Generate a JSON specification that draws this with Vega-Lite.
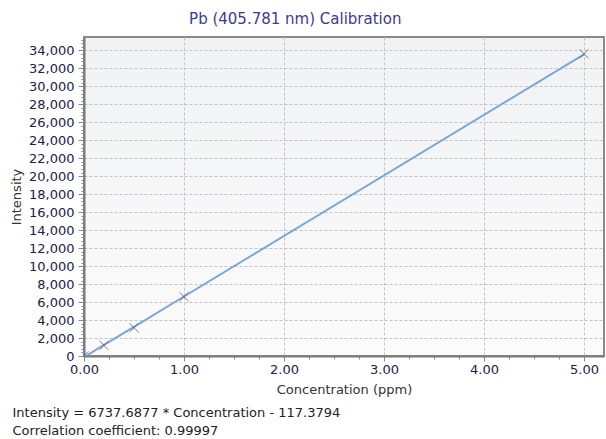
{
  "$schema": "https://vega.github.io/schema/vega-lite/v6.json",
  "background": "white",
  "padding": {"left": 9, "top": 10, "right": 0, "bottom": 0},
  "config": {
    "font": "DejaVu Sans",
    "view": {
      "stroke": "#8a8a8a",
      "strokeWidth": 2,
      "fill": {"gradient": "linear", "x1": 0, "y1": 0, "x2": 0, "y2": 1, "stops": [{"offset": 0, "color": "#f1f2f3"}, {"offset": 1, "color": "#fbfbfc"}]}
    },
    "axis": {
      "labelFont": "DejaVu Sans",
      "labelFontSize": 13,
      "labelColor": "#222244",
      "titleFont": "DejaVu Sans",
      "titleFontSize": 13,
      "titleFontWeight": "normal",
      "titleColor": "#333333",
      "domainColor": "#7a7a7a",
      "domainWidth": 2,
      "tickColor": "#8a8a8a",
      "gridColor": "#c4c4c4",
      "gridDash": [3, 2],
      "labelOverlap": false,
      "labelFlush": false
    }
  },
  "title": {
    "text": ["Intensity = 6737.6877 * Concentration - 117.3794", "Correlation coefficient: 0.99997"],
    "orient": "bottom",
    "anchor": "start",
    "frame": "bounds",
    "font": "DejaVu Sans",
    "fontSize": 13,
    "fontWeight": "normal",
    "color": "#222222",
    "lineHeight": 18,
    "offset": 10,
    "dx": 3
  },
  "vconcat": [
    {
      "width": 520,
      "height": 319,
      "title": {
        "text": "Pb (405.781 nm) Calibration",
        "anchor": "middle",
        "frame": "bounds",
        "font": "DejaVu Sans",
        "fontSize": 15,
        "fontWeight": "normal",
        "color": "#3b3b96",
        "offset": 7,
        "dx": -12
      },
      "data": {
        "values": [
          {"conc": 0.0, "value": -117.38, "kind": "fit"},
          {"conc": 0.2, "value": 1230.16, "kind": "fit"},
          {"conc": 0.5, "value": 3251.46, "kind": "fit"},
          {"conc": 1.0, "value": 6620.31, "kind": "fit"},
          {"conc": 5.0, "value": 33571.06, "kind": "fit"},
          {"conc": 0.0, "value": 20, "kind": "std"},
          {"conc": 0.2, "value": 1180, "kind": "std"},
          {"conc": 0.5, "value": 3150, "kind": "std"},
          {"conc": 1.0, "value": 6600, "kind": "std"},
          {"conc": 5.0, "value": 33630, "kind": "std"}
        ]
      },
      "encoding": {
        "x": {
          "field": "conc",
          "type": "quantitative",
          "title": "Concentration (ppm)",
          "scale": {"domain": [0, 5.2], "nice": false, "zero": false},
          "axis": {
            "values": [0, 0.25, 0.5, 0.75, 1, 1.25, 1.5, 1.75, 2, 2.25, 2.5, 2.75, 3, 3.25, 3.5, 3.75, 4, 4.25, 4.5, 4.75, 5],
            "labelExpr": "datum.value % 1 === 0 ? format(datum.value, '.2f') : ''",
            "tickSize": {"condition": {"test": "datum.value % 1 === 0", "value": 5}, "value": 3},
            "gridOpacity": {"condition": {"test": "datum.value % 1 === 0 && datum.value > 0", "value": 1}, "value": 0},
            "labelPadding": 2,
            "titlePadding": 7
          }
        },
        "y": {
          "field": "value",
          "type": "quantitative",
          "title": "Intensity",
          "scale": {"domain": [0, 35500], "nice": false, "zero": false},
          "axis": {
            "values": [0, 400, 800, 1200, 1600, 2000, 2400, 2800, 3200, 3600, 4000, 4400, 4800, 5200, 5600, 6000, 6400, 6800, 7200, 7600, 8000, 8400, 8800, 9200, 9600, 10000, 10400, 10800, 11200, 11600, 12000, 12400, 12800, 13200, 13600, 14000, 14400, 14800, 15200, 15600, 16000, 16400, 16800, 17200, 17600, 18000, 18400, 18800, 19200, 19600, 20000, 20400, 20800, 21200, 21600, 22000, 22400, 22800, 23200, 23600, 24000, 24400, 24800, 25200, 25600, 26000, 26400, 26800, 27200, 27600, 28000, 28400, 28800, 29200, 29600, 30000, 30400, 30800, 31200, 31600, 32000, 32400, 32800, 33200, 33600, 34000, 34400, 34800, 35200],
            "labelExpr": "datum.value % 2000 === 0 ? format(datum.value, ',') : ''",
            "tickSize": {"condition": {"test": "datum.value % 2000 === 0", "value": 6}, "value": 3},
            "gridOpacity": {"condition": {"test": "datum.value % 2000 === 0 && datum.value > 0", "value": 1}, "value": 0},
            "labelPadding": 4,
            "titlePadding": 5
          }
        }
      },
      "layer": [
        {
          "transform": [{"filter": "datum.kind === 'fit'"}],
          "mark": {"type": "line", "color": "#7aa5dc", "strokeWidth": 2, "clip": true}
        },
        {
          "transform": [{"filter": "datum.kind === 'std'"}],
          "mark": {"type": "point", "shape": "M-1,-1L1,1M1,-1L-1,1", "stroke": "#505050", "strokeWidth": 1, "size": 80, "filled": false, "clip": true}
        }
      ]
    }
  ]
}
